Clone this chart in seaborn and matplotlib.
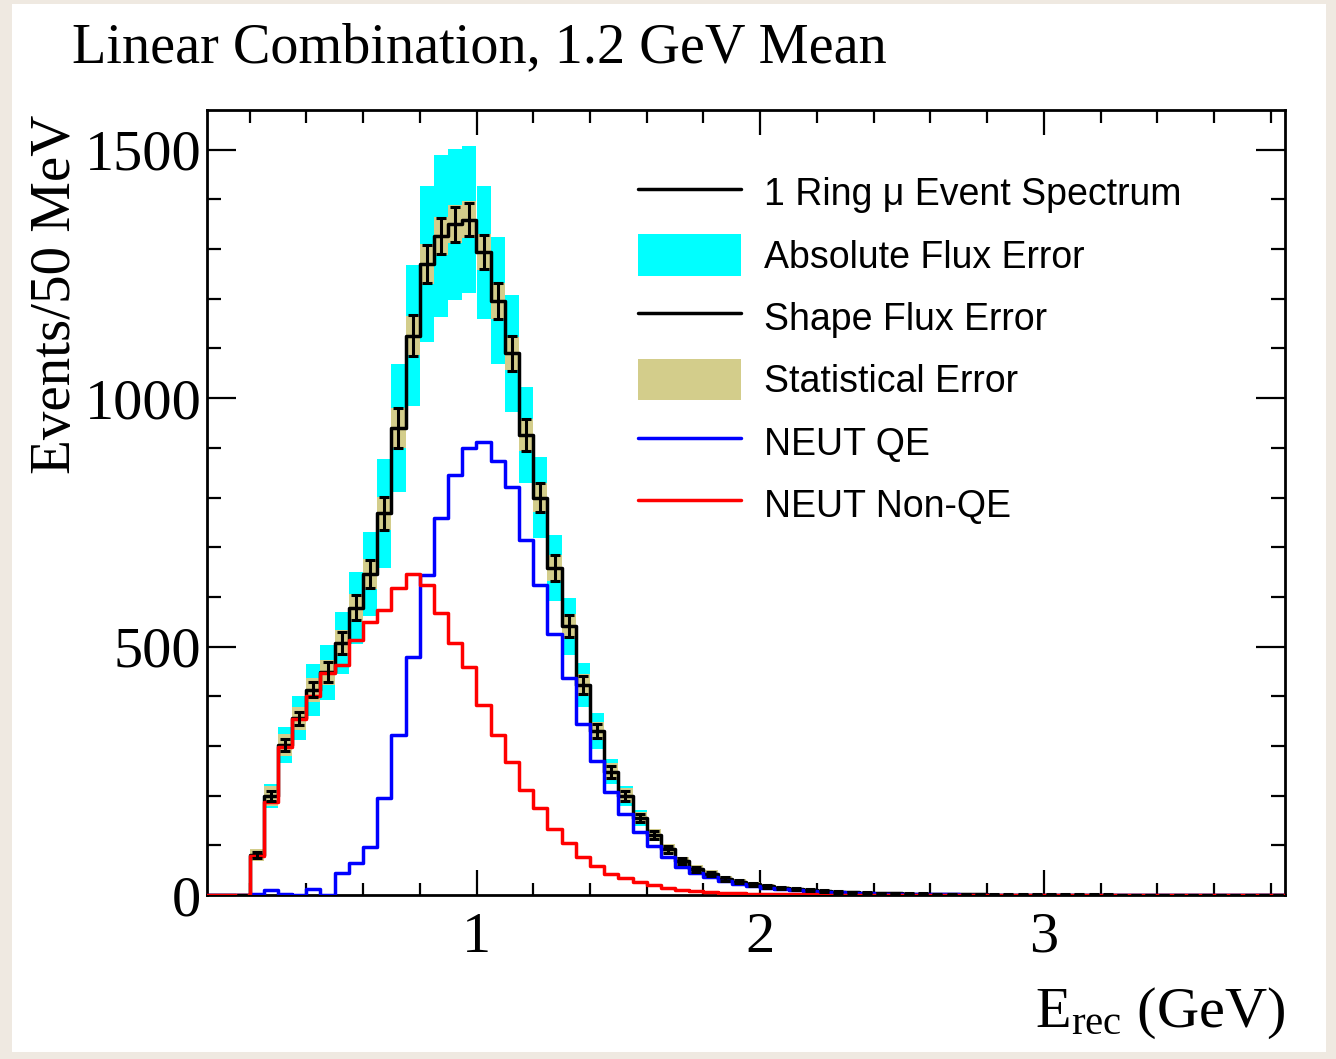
import numpy as np
import pandas as pd
import matplotlib
matplotlib.use("Agg")
import matplotlib.pyplot as plt
import seaborn as sns
from matplotlib.patches import Patch, Rectangle
from matplotlib.lines import Line2D
from matplotlib.ticker import MultipleLocator

# ---------------- data (events per 50 MeV bin, lower edge 0.05 GeV) -------------
first_edge = 0.05
bin_width = 0.05
n_bins = 76

total = [0, 0, 0, 80, 199, 302, 356, 413, 448, 507,
         578, 646, 768, 940, 1126, 1270, 1327, 1350, 1359, 1294,
         1196, 1090, 926, 800, 658, 541, 422, 330, 248, 200,
         155, 121, 92, 68, 52, 43, 33, 27, 22, 18,
         15, 12, 10, 8, 7, 6, 5, 4, 4, 3,
         3, 2, 2, 2, 2, 1, 1, 1, 1, 1,
         1, 1, 1, 1, 0, 0, 0, 0, 0, 0,
         0, 0, 0, 0, 0, 0]

neut_qe = [0, 0, 0, 3, 11, 3, 1, 13, 1, 44,
           65, 97, 195, 322, 479, 644, 759, 845, 899, 912,
           873, 821, 714, 624, 526, 436, 344, 270, 207, 163,
           127, 98, 76, 56, 44, 37, 28, 23, 19, 15,
           13, 10, 8, 7, 6, 5, 4, 3, 3, 2,
           2, 2, 2, 1, 1, 1, 1, 1, 1, 1,
           1, 1, 0, 0, 0, 0, 0, 0, 0, 0,
           0, 0, 0, 0, 0, 0]

neut_nonqe = [0, 0, 0, 78, 188, 298, 355, 400, 447, 463,
              513, 549, 573, 617, 646, 624, 567, 507, 459, 382,
              322, 268, 211, 175, 133, 105, 77, 58, 42, 35,
              26, 21, 15, 11, 8, 6, 5, 4, 3, 3,
              2, 2, 2, 1, 1, 1, 1, 1, 1, 1,
              1, 0, 0, 0, 0, 0, 0, 0, 0, 0,
              0, 0, 0, 0, 0, 0, 0, 0, 0, 0,
              0, 0, 0, 0, 0, 0]

abs_flux_err = [0, 0, 0, 8, 24, 37, 44, 52, 55, 62,
                72, 85, 110, 128, 142, 157, 163, 152, 148, 134,
                128, 118, 97, 82, 66, 57, 44, 37, 25, 20,
                16, 12, 9, 7, 5, 4, 3, 3, 2, 2,
                2, 1, 1, 1, 1, 1, 1, 0, 0, 0,
                0, 0, 0, 0, 0, 0, 0, 0, 0, 0,
                0, 0, 0, 0, 0, 0, 0, 0, 0, 0,
                0, 0, 0, 0, 0, 0]

stat_err = [0, 0, 0, 12, 20, 22, 23, 24, 25, 26,
            28, 30, 34, 40, 40, 40, 38, 38, 37, 36,
            36, 34, 32, 30, 27, 24, 22, 19, 17, 15,
            13, 11, 10, 9, 8, 7, 6, 5, 5, 4,
            4, 3, 3, 3, 2, 2, 2, 2, 2, 1,
            1, 1, 1, 1, 1, 1, 1, 1, 1, 1,
            1, 1, 1, 1, 0, 0, 0, 0, 0, 0,
            0, 0, 0, 0, 0, 0]

shape_err = [0, 0, 0, 6, 10, 12, 13, 15, 20, 22,
             25, 28, 33, 40, 41, 38, 36, 35, 33, 34,
             36, 35, 33, 30, 26, 22, 18, 15, 12, 10,
             9, 8, 7, 6, 5, 4, 4, 3, 3, 3,
             2, 2, 2, 2, 2, 1, 1, 1, 1, 1,
             1, 1, 1, 1, 1, 1, 1, 1, 1, 1,
             1, 1, 1, 1, 0, 0, 0, 0, 0, 0,
             0, 0, 0, 0, 0, 0]

legend_labels = ["1 Ring \u03bc Event Spectrum", "Absolute Flux Error",
                 "Shape Flux Error", "Statistical Error", "NEUT QE", "NEUT Non-QE"]
title_text = "Linear Combination, 1.2 GeV Mean"

# ---------------- styling --------------------------------------------------------
sns.set_style("ticks")
plt.rcParams["font.family"] = ["Liberation Serif", "DejaVu Serif"]
plt.rcParams["mathtext.fontset"] = "custom"
plt.rcParams["mathtext.rm"] = "Liberation Serif"
plt.rcParams["mathtext.it"] = "Liberation Serif:italic"
for key in ["text.color", "axes.labelcolor", "xtick.color", "ytick.color", "axes.edgecolor"]:
    plt.rcParams[key] = "black"

CYAN = "#00ffff"
OLIVE = "#d3cd8b"
BLUE = "#0000ff"
RED = "#ff0000"
PAPER = "#efe9e1"
LW = 2.5

W, H = 1336, 1059
fig = plt.figure(figsize=(W / 100, H / 100), dpi=100, facecolor=PAPER)
fig.patches.append(Rectangle((12 / W, 1 - 1052 / H), (1326 - 12) / W, (1052 - 4) / H,
                             transform=fig.transFigure, facecolor="white",
                             edgecolor="none", zorder=-5))
ax = fig.add_axes([207 / W, 1 - 895 / H, (1285 - 207) / W, (895 - 110) / H])
ax.set_facecolor("white")

edges = first_edge + bin_width * np.arange(n_bins + 1)
edge_list = [float(e) for e in edges]
lo = edges[:-1]
centers = lo + bin_width / 2

df = pd.DataFrame({"E": centers, "total": total, "qe": neut_qe, "nonqe": neut_nonqe,
                   "abs": abs_flux_err, "stat": stat_err, "shape": shape_err})

tot = df["total"].to_numpy(float)
# absolute flux error band
ax.bar(lo, 2 * df["abs"], bottom=tot - df["abs"], width=bin_width, align="edge",
       color=CYAN, linewidth=0, zorder=1)
# statistical error band
ax.bar(lo, 2 * df["stat"], bottom=tot - df["stat"], width=bin_width, align="edge",
       color=OLIVE, linewidth=0, zorder=2)

sns.histplot(data=df, x="E", weights="total", bins=edge_list, element="step", fill=False,
             color="black", linewidth=LW, ax=ax, zorder=3)
sns.histplot(data=df, x="E", weights="qe", bins=edge_list, element="step", fill=False,
             color=BLUE, linewidth=LW, ax=ax, zorder=4)
sns.histplot(data=df, x="E", weights="nonqe", bins=edge_list, element="step", fill=False,
             color=RED, linewidth=LW, ax=ax, zorder=5)

mask = df.index >= 2
ax.errorbar(df["E"][mask], tot[mask], yerr=df["shape"][mask], fmt="none",
            ecolor="black", elinewidth=2.2, capsize=3.5, capthick=2.2, zorder=6)

ax.set_xlim(edges[0], edges[-1])
ax.set_ylim(0, 1580)

ax.xaxis.set_major_locator(MultipleLocator(1))
ax.xaxis.set_minor_locator(MultipleLocator(0.2))
ax.yaxis.set_major_locator(MultipleLocator(500))
ax.yaxis.set_minor_locator(MultipleLocator(100))
ax.tick_params(axis="both", which="both", direction="in", top=True, right=True,
               labelsize=42, width=1.6, color="black")
ax.tick_params(axis="y", which="major", length=21, pad=4)
ax.tick_params(axis="y", which="minor", length=10)
ax.tick_params(axis="x", which="major", length=18, pad=12)
ax.tick_params(axis="x", which="minor", length=9)
for sp in ax.spines.values():
    sp.set_linewidth(2.0)
    sp.set_color("black")

ax.set_ylabel("Events/50 MeV", fontsize=41, loc="top")
ax.yaxis.set_label_coords(-0.116, 0.994)
ax.set_xlabel("E$_{\\mathrm{rec}}$ (GeV)", fontsize=42, loc="right")
ax.xaxis.set_label_coords(1.0, -0.115)

fig.text(72 / W, 1 - 62 / H, title_text, fontsize=40.5, ha="left", va="baseline")

handles = [Line2D([], [], color="black", lw=LW),
           Patch(facecolor=CYAN, edgecolor="none"),
           Line2D([], [], color="black", lw=LW),
           Patch(facecolor=OLIVE, edgecolor="none"),
           Line2D([], [], color=BLUE, lw=LW),
           Line2D([], [], color=RED, lw=LW)]
leg = ax.legend(handles, legend_labels, loc="upper left",
                bbox_to_anchor=(638 / W, 1 - 172 / H), bbox_transform=fig.transFigure,
                frameon=False, borderpad=0, borderaxespad=0,
                prop={"family": ["Liberation Sans", "DejaVu Sans"], "size": 27},
                handlelength=2.75, handleheight=1.32, handletextpad=0.6,
                labelspacing=0.56)

fig.savefig("out.png", dpi=100, facecolor=fig.get_facecolor())
